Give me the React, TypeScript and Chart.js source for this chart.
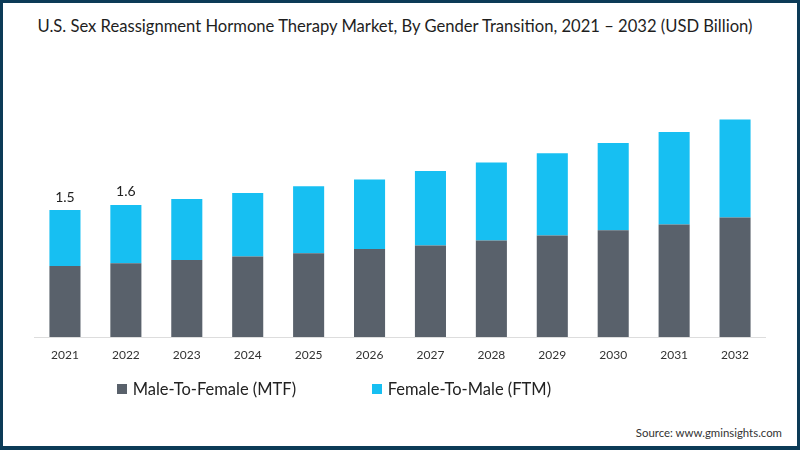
import { useEffect, useRef } from "react";
import { Chart, registerables } from "chart.js";

Chart.register(...registerables);

const years = ["2021", "2022", "2023", "2024", "2025", "2026", "2027", "2028", "2029", "2030", "2031", "2032"];
const mtfValues = [0.84, 0.87, 0.91, 0.95, 0.99, 1.04, 1.08, 1.14, 1.2, 1.26, 1.33, 1.41];
const ftmValues = [0.66, 0.69, 0.72, 0.75, 0.79, 0.82, 0.88, 0.92, 0.97, 1.03, 1.09, 1.16];
const totalLabels = ["1.5", "1.6", "", "", "", "", "", "", "", "", "", ""];
const seriesNames = ["Male-To-Female (MTF)", "Female-To-Male (FTM)"];
const seriesColors = ["#59616b", "#17bff2"];
const titleText = "U.S. Sex Reassignment Hormone Therapy Market, By Gender Transition, 2021 \u2013 2032 (USD Billion)";
const sourceText = "Source: www.gminsights.com";

const FONT = "Lato, 'Noto Sans', sans-serif";

const totalLabelPlugin = {
  id: "totalLabels",
  afterDatasetsDraw(chart: any) {
    const meta = chart.getDatasetMeta(1);
    const ctx = chart.ctx;
    ctx.save();
    ctx.font = `14px ${FONT}`;
    ctx.fillStyle = "#222222";
    ctx.textAlign = "center";
    ctx.textBaseline = "middle";
    meta.data.forEach((bar: any, i: number) => {
      const t = totalLabels[i];
      if (!t) return;
      ctx.fillText(t, bar.x, bar.y - 13);
    });
    ctx.restore();
  },
};

export default function App() {
  const canvasRef = useRef<HTMLCanvasElement | null>(null);

  useEffect(() => {
    if (!canvasRef.current) return;
    const chart = new Chart(canvasRef.current, {
      type: "bar",
      data: {
        labels: years,
        datasets: [
          { label: seriesNames[0], data: mtfValues, backgroundColor: seriesColors[0], borderWidth: 0 },
          { label: seriesNames[1], data: ftmValues, backgroundColor: seriesColors[1], borderWidth: 0 },
        ],
      },
      options: {
        animation: false,
        responsive: true,
        maintainAspectRatio: false,
        layout: { padding: { left: 34.5, right: 34.5, top: 23, bottom: 6.6 } },
        datasets: { bar: { categoryPercentage: 1, barPercentage: 0.51 } },
        plugins: {
          legend: { display: false },
          title: { display: false },
          tooltip: { enabled: false },
        },
        scales: {
          x: {
            stacked: true,
            grid: { display: false, drawTicks: false },
            border: { display: true, color: "#dddddd", width: 1 },
            ticks: { padding: 11, color: "#333333", font: { family: FONT, size: 12 } },
          },
          y: {
            stacked: true,
            display: false,
            min: 0,
            max: 3.0,
          },
        },
      },
      plugins: [totalLabelPlugin],
    });
    return () => chart.destroy();
  }, []);

  return (
    <div style={{ position: "absolute", left: 0, top: 0, width: 800, height: 450, background: "#ffffff", fontFamily: FONT, overflow: "hidden" }}>
      <div style={{ position: "absolute", left: 0, top: 16, width: 790, textAlign: "center", fontSize: 16.6, lineHeight: "20px", color: "#1e1e1e", whiteSpace: "nowrap" }}>
        {titleText}
      </div>
      <div style={{ position: "absolute", left: 0, top: 60, width: 800, height: 320 }}>
        <canvas ref={canvasRef} />
      </div>
      {seriesNames.map((name, i) => (
        <div key={name} style={{ position: "absolute", left: i === 0 ? 116.7 : 371.7, top: 379, height: 20, display: "flex", alignItems: "center", whiteSpace: "nowrap" }}>
          <span style={{ display: "inline-block", width: 10, height: 10, background: seriesColors[i], marginRight: 6 }} />
          <span style={{ fontSize: 16.5, lineHeight: "20px", color: "#222222" }}>{name}</span>
        </div>
      ))}
      <div style={{ position: "absolute", right: 18, top: 425, fontSize: 11.4, lineHeight: "16px", color: "#333333", whiteSpace: "nowrap" }}>
        {sourceText}
      </div>
      <div style={{ position: "absolute", left: 0, top: 0, width: 800, height: 450, boxSizing: "border-box", borderStyle: "solid", borderColor: "#0c3b57", borderWidth: "3px 3px 4px 3px", pointerEvents: "none" }} />
    </div>
  );
}
